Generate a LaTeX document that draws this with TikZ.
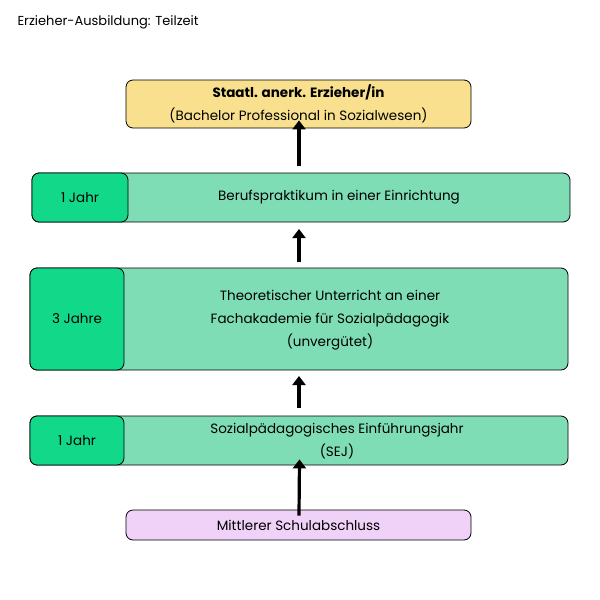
\documentclass[tikz,border=0pt]{standalone}
\usepackage{fontspec}
\setmainfont{Poppins}
\usetikzlibrary{arrows.meta}
\definecolor{ylw}{HTML}{F8E08E}
\definecolor{lgr}{HTML}{7FDDB5}
\definecolor{dgr}{HTML}{12D88A}
\definecolor{lav}{HTML}{F0D2F8}
\begin{document}
\begin{tikzpicture}[x=1pt,y=-1pt,
  box/.style={draw=black,line width=0.8pt,rounded corners=7pt,inner sep=0pt,align=center,font=\fontsize{13.5}{23}\selectfont},
  arr/.style={line width=3.2pt,-{Triangle[width=13pt,length=9pt]}},
  txt/.style={align=center,font=\fontsize{13.5}{23}\selectfont}]
\useasboundingbox (0,0) rectangle (600,600);
\node[anchor=west,font=\fontsize{13}{15}\selectfont] (title) at (14,22) {Erzieher-Ausbildung: Teilzeit};
% top
\node[box,fill=ylw,minimum width=345pt,minimum height=48pt] (top) at (298.5,104) {\textbf{Staatl. anerk. Erzieher/in}\\(Bachelor Professional in Sozialwesen)};
% box 2
\node[box,fill=lgr,minimum width=538pt,minimum height=49pt] (b2) at (301,197.5) {};
\node[box,fill=dgr,minimum width=96pt,minimum height=49pt,anchor=west] (l2) at (b2.west) {1 Jahr};
\node[txt] (t2) at (339,197.5) {Berufspraktikum in einer Einrichtung};
% box 3
\node[box,fill=lgr,minimum width=538pt,minimum height=102pt] (b3) at (299,319) {};
\node[box,fill=dgr,minimum width=94pt,minimum height=102pt,anchor=west] (l3) at (b3.west) {3 Jahre};
\node[txt] (t3) at (330,320) {Theoretischer Unterricht an einer\\Fachakademie für Sozialpädagogik\\(unvergütet)};
% box 4
\node[box,fill=lgr,minimum width=538pt,minimum height=49pt] (b4) at (299,440.5) {};
\node[box,fill=dgr,minimum width=94pt,minimum height=49pt,anchor=west] (l4) at (b4.west) {1 Jahr};
\node[txt] (t4) at (337,441) {Sozialpädagogisches Einführungsjahr\\(SEJ)};
% bottom
\node[box,fill=lav,minimum width=345pt,minimum height=30pt] (bot) at (298.5,525) {Mittlerer Schulabschluss};
% arrows
\draw[arr] ([xshift=0.5pt,yshift=-6pt]bot.north) -- ([xshift=0.5pt,yshift=6pt]b4.south |- b4.south);
\draw[arr] (299,408) -- (299,376);
\draw[arr] (299,262) -- (299,229);
\draw[arr] ([xshift=0.5pt]top.south |- b2.north) ++(0,-7) -- ([xshift=0.5pt,yshift=8pt]top.south);
\end{tikzpicture}
\end{document}
